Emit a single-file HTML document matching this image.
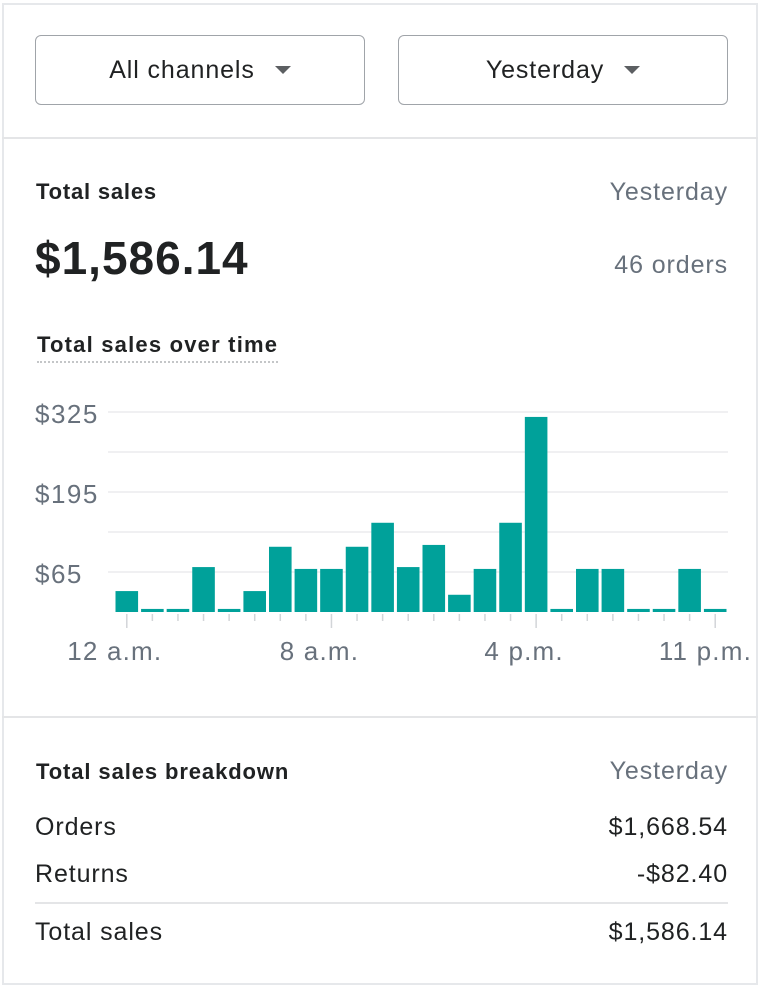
<!DOCTYPE html>
<html><head><meta charset="utf-8">
<style>
*{margin:0;padding:0;box-sizing:border-box}
body{width:760px;height:987px;background:#fff;font-family:"Liberation Sans",sans-serif;color:#202223;position:relative;overflow:hidden;letter-spacing:0.9px}
.abs{position:absolute}
.card{position:absolute;left:2px;top:3px;width:756px;height:982px;border:2px solid #e6e8eb}
.btn{position:absolute;top:35px;width:330px;height:70px;border:1.5px solid #a0a4a9;border-radius:6px;font-size:25px;display:flex;align-items:center;justify-content:center;background:#fff}
.tri{display:inline-block;width:0;height:0;border-left:8px solid transparent;border-right:8px solid transparent;border-top:8px solid #5c5f62;margin-left:20px}
.hr{position:absolute;height:2px;background:#e4e5e7}
.grey{color:#68717c}
b,.bold{font-weight:bold;letter-spacing:0.8px}
</style></head><body>
<div class="card"></div>
<div class="btn" style="left:35px">All channels<span class="tri"></span></div>
<div class="btn" style="left:398px">Yesterday<span class="tri"></span></div>
<div class="hr" style="left:2px;width:756px;top:137px"></div>

<div class="abs bold" style="left:36px;top:179px;font-size:22px">Total sales</div>
<div class="abs grey" style="right:32px;top:178px;font-size:25px">Yesterday</div>
<div class="abs bold" style="left:35px;top:231px;font-size:46px;letter-spacing:1px">$1,586.14</div>
<div class="abs grey" style="right:32px;top:251px;font-size:25px">46 orders</div>
<div class="abs bold" style="left:37px;top:332px;font-size:22px;letter-spacing:1.2px;border-bottom:2px dotted #c4c6c8;padding-bottom:3px">Total sales over time</div>

<svg class="abs" style="left:0;top:380px" width="760" height="300">
<g id="g"></g></svg>

<div class="hr" style="left:2px;width:756px;top:716px"></div>
<div class="abs bold" style="left:36px;top:759px;font-size:22px;letter-spacing:0.9px">Total sales breakdown</div>
<div class="abs grey" style="right:32px;top:757px;font-size:25px">Yesterday</div>
<div class="abs" style="left:35px;top:813px;font-size:25px">Orders</div>
<div class="abs" style="right:32px;top:813px;font-size:25px">$1,668.54</div>
<div class="abs" style="left:35px;top:860px;font-size:25px">Returns</div>
<div class="abs" style="right:32px;top:860px;font-size:25px">-$82.40</div>
<div class="hr" style="left:35px;width:693px;top:902px"></div>
<div class="abs" style="left:35px;top:918px;font-size:25px">Total sales</div>
<div class="abs" style="right:32px;top:918px;font-size:25px">$1,586.14</div>

<script>
const hours = ["12a","1a","2a","3a","4a","5a","6a","7a","8a","9a","10a","11a","12p","1p","2p","3p","4p","5p","6p","7p","8p","9p","10p","11p"];
const sales = [34,5,5,73,5,34,106,70,70,106,145,73,109,28,70,145,317,5,70,70,5,5,70,5];
const yTicks = [65,195,325];
const gridValues = [65,130,195,260,325];
const xLabelIdx = [0,8,16,23];
const xLabels = ["12 a.m.","8 a.m.","4 p.m.","11 p.m."];

const NS="http://www.w3.org/2000/svg";
const g=document.getElementById('g');
const left=114,right=728,base=232,pxPer=200/325;
const step=(right-left)/hours.length;
const y=v=>base-v*pxPer;
const xc=i=>left+i*step+step/2;
function mk(t,a){const e=document.createElementNS(NS,t);for(const k in a)e.setAttribute(k,a[k]);g.appendChild(e);return e;}
gridValues.forEach(v=>{
  const l=mk('line',{x1:108,x2:728,y1:y(v),y2:y(v),stroke:'#ebecee','stroke-width':1.5});
  
  
});
yTicks.forEach(v=>{
  const t=mk('text',{x:35,y:y(v)+11,'font-size':26,'letter-spacing':1.5,fill:'#68717c','font-family':'Liberation Sans, sans-serif'});
  t.textContent='$'+v;
  
  
});
sales.forEach((v,i)=>{
  const h=Math.max(v*pxPer,2);
  const r=mk('rect',{x:left+i*step+1.5,y:base-h,width:step-3,height:h,fill:'#00a19a'});
  
  
});
hours.forEach((hh,i)=>{
  const major=xLabelIdx.includes(i);
  const l=mk('line',{x1:xc(i),x2:xc(i),y1:base+2,y2:base+(major?16:9),stroke:'#d2d5d8','stroke-width':1.5});
  
  
});
xLabelIdx.forEach((idx,k)=>{
  const last=k===xLabelIdx.length-1;
  const t=mk('text',{x:last?752:xc(idx)-12,y:base+48,'font-size':26,'letter-spacing':1.2,fill:'#68717c','text-anchor':last?'end':'middle','font-family':'Liberation Sans, sans-serif'});
  t.textContent=xLabels[k];
  
  
});
</script>
</body></html>
